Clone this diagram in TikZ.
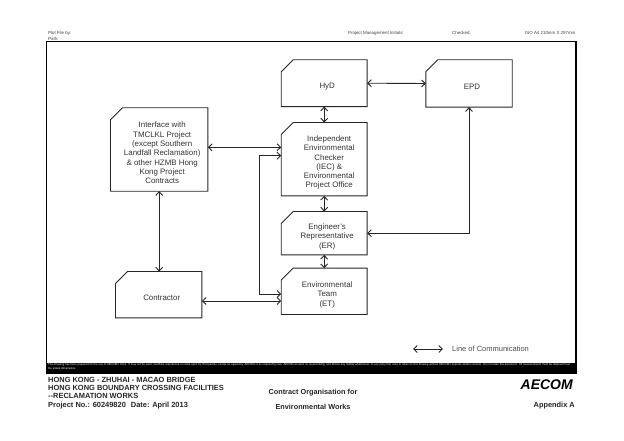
\documentclass[tikz,border=0pt]{standalone}
\usepackage{fontspec}
\setmainfont{Liberation Sans}
\usetikzlibrary{arrows.meta}
\tikzset{
  cbox/.style={rectangle, inner sep=0pt,
    append after command={\pgfextra{\draw[line width=0.9pt, draw=black!85]
      ([xshift=12pt]\tikzlastnode.north west) -- (\tikzlastnode.north east) -- (\tikzlastnode.south east)
      -- (\tikzlastnode.south west) -- ([yshift=-12pt]\tikzlastnode.north west) -- cycle;}}},
  boxtext/.style={inner sep=0pt, xshift=3pt, yshift=-3.5pt, align=center, font=\fontsize{7.9}{9.3}\selectfont, text=black!80},
  link/.style={line width=0.9pt, draw=black!85, {Straight Barb[length=3.6pt,width=7pt]}-{Straight Barb[length=3.6pt,width=7pt]}},
  tiny/.style={inner sep=0pt, font=\fontsize{4.4}{5.5}\selectfont, text=black!75},
  titleb/.style={inner sep=0pt, align=left, font=\bfseries\fontsize{7.45}{8.3}\selectfont, text=black!85},
}
\begin{document}
\begin{tikzpicture}[x=1pt,y=-1pt]
\useasboundingbox (0,0) rectangle (624,441);
\fill[white] (0,0) rectangle (624,441);
% frame
\fill[black] (46.5,362.5) rectangle (576,374);
\node[draw=black, line width=1.2pt, inner sep=0pt, minimum width=529.5pt, minimum height=332pt] (frame) at (311.25,207.7) {};
% header
\node[tiny, anchor=west] (plot) at (48,33) {Plot File by:};
\node[tiny, anchor=west] (path) at (48,38.5) {Path:};
\node[tiny, anchor=west] (pmi) at (348,33) {Project Management Initials:};
\node[tiny, anchor=west] (chk) at (452,33) {Checked:};
\node[tiny, anchor=west] (iso) at (525,33) {ISO A4 210mm X 297mm};
% boxes
\node[cbox, minimum width=85.5pt, minimum height=46.5pt, label={[boxtext]center:HyD}] (hyd) at (324.2,83.2) {};
\node[cbox, minimum width=86pt, minimum height=47pt, label={[boxtext]center:EPD}] (epd) at (469,83.5) {};
\node[cbox, minimum width=97pt, minimum height=83pt, label={[boxtext]center:{Interface with\\TMCLKL Project\\(except Southern\\Landfall Reclamation)\\\&\ other HZMB Hong\\Kong Project\\Contracts}}] (iface) at (159.2,149.5) {};
\node[cbox, minimum width=85.5pt, minimum height=73pt, label={[boxtext,xshift=2pt]center:{Independent\\Environmental\\Checker\\(IEC) \&\\Environmental\\Project Office}}] (iec) at (324.2,159.2) {};
\node[cbox, minimum width=85.5pt, minimum height=43pt, label={[boxtext]center:{Engineer's\\Representative\\(ER)}}] (er) at (324.2,233.2) {};
\node[cbox, minimum width=85.5pt, minimum height=46pt, label={[boxtext]center:{Environmental\\Team\\(ET)}}] (et) at (324.2,291.3) {};
\node[cbox, minimum width=86pt, minimum height=46pt, label={[boxtext]center:Contractor}] (con) at (158.7,294.7) {};
% helper coordinates
\coordinate (yA) at (0,147.3);
\coordinate (yB) at (0,155.7);
\coordinate (yC) at (0,294);
\coordinate (yD) at (0,301);
\coordinate (xB) at (259.3,0);
% connectors
\draw[link] (hyd.east) -- (epd.west);
\draw[link] (hyd.south) -- (iec.north);
\draw[link] (iec.south) -- (er.north);
\draw[link] (er.south) -- (et.north);
\draw[link] (iface.east |- yA) -- (iec.west |- yA);
\draw[link] (iface.south) -- (iface.south |- con.north);
\draw[link] (con.east |- yD) -- (et.west |- yD);
\draw[link] (iec.west |- yB) -- (xB |- yB) -- (xB |- yC) -- (et.west |- yC);
\draw[link] (er.east) -- (epd.south |- er.east) -- (epd.south);
% legend
\coordinate (lgA) at (413,349);
\coordinate (lgB) at (443,349);
\draw[link] (lgA) -- (lgB);
\node[inner sep=0pt, anchor=west, font=\fontsize{7.5}{9}\selectfont, text=black!70] (lgt) at (452,349.3) {Line of Communication};
% disclaimer
\node[inner sep=0pt, anchor=north west, text width=526pt, align=left, text=white, font=\fontsize{2.75}{4.2}\selectfont] (disc) at (48,363.6) {This Drawing has been prepared for the use of AECOM's client. It may not be used, modified, reproduced or relied upon by third parties, except as agreed by AECOM or as required by law. AECOM accepts no responsibility, and denies any liability whatsoever, to any party that uses or relies on this drawing without AECOM's express written consent. Do not scale this document. All measurements must be obtained from the stated dimensions.};
% title block
\node[titleb, anchor=north west] (title) at (48,376.9) {HONG KONG - ZHUHAI - MACAO BRIDGE\\HONG KONG BOUNDARY CROSSING FACILITIES\\-{}-RECLAMATION WORKS\\Project No.: 60249820\hspace{5pt}Date: April 2013};
\node[inner sep=0pt, font=\bfseries\fontsize{7.3}{8}\selectfont, text=black!85] (c1) at (313,392.7) {Contract Organisation for};
\node[inner sep=0pt, font=\bfseries\fontsize{7.3}{8}\selectfont, text=black!85] (c2) at (313,407.3) {Environmental Works};
\node[inner sep=0pt, anchor=east, font=\bfseries\itshape\fontsize{14}{14}\selectfont] (logo) at (573,385) {AECOM};
\node[inner sep=0pt, anchor=east, font=\bfseries\fontsize{7.4}{8}\selectfont, text=black!85] (app) at (575,405.3) {Appendix A};
\end{tikzpicture}
\end{document}
